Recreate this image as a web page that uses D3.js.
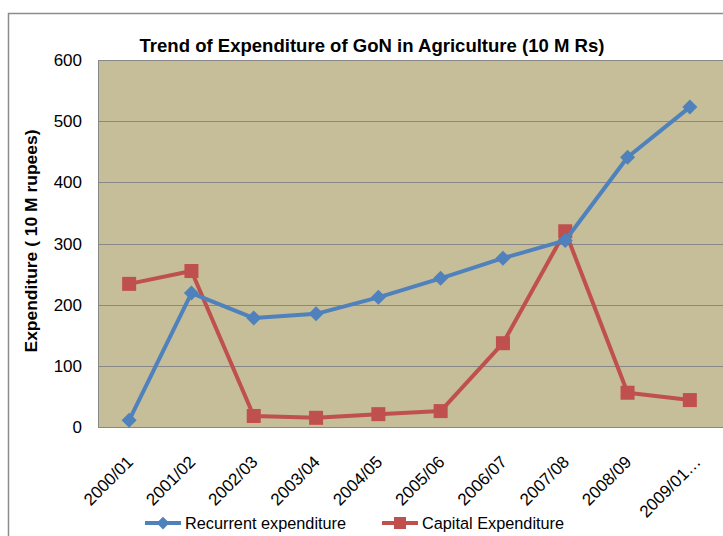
<!DOCTYPE html>
<html><head><meta charset="utf-8">
<script src="https://cdn.jsdelivr.net/npm/d3@7"></script>
<style>body{margin:0;background:#fff}svg{display:block}text{font-family:"Liberation Sans",Arial,sans-serif}</style>
</head><body><svg id="c" width="723" height="536"></svg>
<script>
const categories = ["2000/01","2001/02","2002/03","2003/04","2004/05","2005/06","2006/07","2007/08","2008/09","2009/01…"];
const recurrent = [11, 219, 178, 185, 212, 243, 276, 305, 441, 523];
const capital = [234, 255, 18, 15, 21, 26, 137, 320, 56, 44];
const yTicks = [0, 100, 200, 300, 400, 500, 600];
const seriesNames = ["Recurrent expenditure", "Capital Expenditure"];

const svg = d3.select("#c");
const L = 98, R = 721, T = 60, B = 427;
const x = d3.scaleBand().domain(categories).range([L, R]);
const cx = c => x(c) + x.bandwidth() / 2;
const y = d3.scaleLinear().domain([0, 600]).range([B, T]);

// outer frame
svg.append("rect").attr("x", 8.5).attr("y", 13.5).attr("width", 730).attr("height", 540)
  .attr("fill", "none").attr("stroke", "#8c8c8c").attr("stroke-width", 1.5);

// plot bg
svg.append("rect").attr("x", L).attr("y", T).attr("width", 723 - L).attr("height", B - T).attr("fill", "#C5BE98");

// gridlines
svg.append("g").selectAll("line").data(yTicks.filter(d => d > 0)).join("line")
  .attr("x1", L).attr("x2", 723).attr("y1", d => Math.round(y(d)) + 0.5).attr("y2", d => Math.round(y(d)) + 0.5)
  .attr("stroke", "#888888").attr("stroke-width", 1);
svg.append("line").attr("x1", L + 0.5).attr("x2", L + 0.5).attr("y1", T).attr("y2", B).attr("stroke", "#888888");
svg.append("line").attr("x1", L).attr("x2", 723).attr("y1", B + 0.5).attr("y2", B + 0.5).attr("stroke", "#888888");

// y tick labels
svg.append("g").selectAll("text").data(yTicks).join("text")
  .attr("x", 82).attr("y", d => y(d) + 6).attr("text-anchor", "end")
  .attr("font-size", 17).attr("fill", "#000").text(d => d);

// x tick labels
svg.append("g").selectAll("text").data(categories).join("text")
  .attr("transform", (c, i) => `translate(${cx(c) + (i === categories.length - 1 ? 12 : 5)},${B + 36}) rotate(-45)`)
  .attr("text-anchor", "end").attr("font-size", 17).attr("fill", "#000").text(c => c);

// title
svg.append("text").attr("x", 372).attr("y", 52).attr("text-anchor", "middle")
  .attr("font-size", 19).attr("font-weight", "bold").attr("fill", "#000")
  .attr("textLength", 465).attr("lengthAdjust", "spacingAndGlyphs")
  .text("Trend of Expenditure of GoN in Agriculture (10 M Rs)");

// y axis title
svg.append("text").attr("transform", "translate(37,241) rotate(-90)").attr("text-anchor", "middle")
  .attr("font-size", 17).attr("font-weight", "bold").attr("fill", "#000")
  .attr("textLength", 223).attr("lengthAdjust", "spacingAndGlyphs")
  .text("Expenditure ( 10 M rupees)");

const line = d3.line().x((d, i) => cx(categories[i])).y(d => y(d));
const blue = "#4F81BD", red = "#C0504D";
const diamondPath = "M0,-7.5L7.5,0L0,7.5L-7.5,0Z";

svg.append("path").datum(capital).attr("d", line).attr("fill", "none").attr("stroke", red).attr("stroke-width", 4).attr("stroke-linejoin", "round");
svg.append("g").selectAll("rect").data(capital).join("rect")
  .attr("x", (d, i) => cx(categories[i]) - 7).attr("y", d => y(d) - 7).attr("width", 14).attr("height", 14).attr("fill", red);

svg.append("path").datum(recurrent).attr("d", line).attr("fill", "none").attr("stroke", blue).attr("stroke-width", 4).attr("stroke-linejoin", "round");
svg.append("g").selectAll("path.m").data(recurrent).join("path").attr("class", "m")
  .attr("transform", (d, i) => `translate(${cx(categories[i])},${y(d)})`).attr("d", diamondPath).attr("fill", blue);

// legend
const lg = svg.append("g");
const items = [{name: seriesNames[0], color: blue, x: 145, type: "d"}, {name: seriesNames[1], color: red, x: 382, type: "s"}];
items.forEach(it => {
  lg.append("line").attr("x1", it.x).attr("x2", it.x + 36).attr("y1", 523).attr("y2", 523).attr("stroke", it.color).attr("stroke-width", 4);
  if (it.type === "d") lg.append("path").attr("transform", `translate(${it.x + 18},523) scale(0.85)`).attr("d", diamondPath).attr("fill", it.color);
  else lg.append("rect").attr("x", it.x + 12).attr("y", 517).attr("width", 12).attr("height", 12).attr("fill", it.color);
  lg.append("text").attr("x", it.x + 40).attr("y", 529).attr("font-size", 16.3).attr("fill", "#000").text(it.name);
});
</script></body></html>
